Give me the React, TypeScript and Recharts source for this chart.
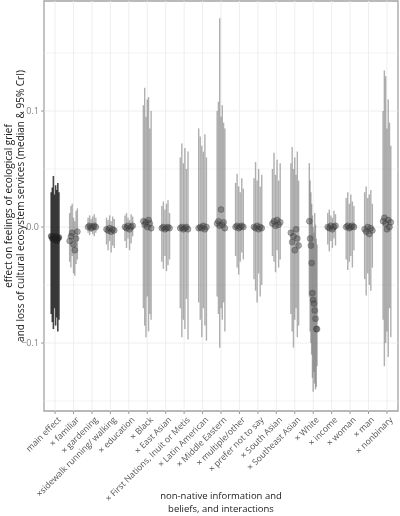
import React from 'react';
import {
  ScatterChart, Scatter, ErrorBar, XAxis, YAxis, ReferenceLine, ReferenceArea,
} from 'recharts';

const FONT = '"Open Sans", "Noto Sans", sans-serif';

const categories = [
  'main effect', '× familiar', '× gardening', '×sidewalk running/ walking', '× education',
  '× Black', '× East Asian', '× First Nations, Inuit or Metis', '× Latin American',
  '× Middle Eastern', '× multiple/other', '× prefer not to say', '× South Asian',
  '× Southeast Asian', '× White', '× income', '× woman', '× man', '× nonbinary',
];

// posterior medians, one list of model runs per term
const medians = [
  [-0.008, -0.010, -0.009, -0.011, -0.008, -0.012, -0.010, -0.009],
  [-0.012, -0.008, -0.005, -0.015, -0.020, -0.010, -0.004],
  [0.000, 0.001, -0.001, 0.000, 0.001, 0.000],
  [-0.002, -0.003, -0.001, -0.004, -0.002, -0.003],
  [0.000, -0.001, 0.001, -0.002, 0.000, 0.001],
  [0.005, 0.002, 0.004, 0.000, 0.006, 0.003, -0.001],
  [-0.001, 0.000, -0.002, -0.001, 0.000, -0.001],
  [-0.001, 0.000, -0.002, -0.001, 0.000, -0.002],
  [-0.001, 0.000, -0.001, 0.001, -0.002, 0.000],
  [0.003, 0.005, 0.001, 0.015, 0.002, 0.004, -0.001],
  [0.000, 0.001, -0.001, 0.000, 0.001, 0.000],
  [0.000, -0.001, 0.001, -0.002, 0.000, -0.001],
  [0.003, 0.005, 0.001, 0.006, 0.002, 0.004],
  [-0.005, -0.013, -0.008, -0.020, -0.002, -0.010, -0.016],
  [0.005, -0.010, -0.016, -0.031, -0.057, -0.063, -0.066, -0.072, -0.079, -0.088, -0.088],
  [0.000, -0.001, 0.001, -0.002, 0.000, 0.001],
  [0.000, 0.001, -0.001, 0.000, 0.001, 0.000],
  [-0.002, -0.004, 0.000, -0.006, -0.001, -0.003],
  [0.005, 0.008, 0.003, -0.002, 0.006, 0.000, 0.004],
];

// lower 95% CrI bounds
const lowers = [
  [-0.075, -0.082, -0.088, -0.070, -0.085, -0.078, -0.090, -0.080],
  [-0.030, -0.035, -0.025, -0.040, -0.042, -0.032, -0.028],
  [-0.005, -0.007, -0.004, -0.006, -0.008, -0.005],
  [-0.015, -0.020, -0.012, -0.022, -0.016, -0.018],
  [-0.012, -0.018, -0.010, -0.020, -0.014, -0.008],
  [-0.070, -0.085, -0.095, -0.060, -0.090, -0.075, -0.080],
  [-0.030, -0.036, -0.025, -0.038, -0.033, -0.028],
  [-0.070, -0.095, -0.080, -0.088, -0.062, -0.097],
  [-0.065, -0.080, -0.095, -0.070, -0.085, -0.098],
  [-0.060, -0.075, -0.104, -0.070, -0.080, -0.065, -0.090],
  [-0.025, -0.035, -0.041, -0.030, -0.022, -0.028],
  [-0.045, -0.055, -0.065, -0.040, -0.060, -0.050],
  [-0.025, -0.030, -0.039, -0.020, -0.035, -0.028],
  [-0.075, -0.090, -0.104, -0.080, -0.070, -0.095, -0.085],
  [-0.060, -0.090, -0.100, -0.110, -0.130, -0.142, -0.125, -0.135, -0.140, -0.138, -0.120],
  [-0.015, -0.021, -0.012, -0.018, -0.010, -0.016],
  [-0.028, -0.037, -0.030, -0.025, -0.035, -0.020],
  [-0.045, -0.059, -0.040, -0.050, -0.055, -0.035],
  [-0.080, -0.120, -0.100, -0.090, -0.112, -0.070, -0.095],
];

// upper 95% CrI bounds
const uppers = [
  [0.030, 0.034, 0.044, 0.028, 0.036, 0.032, 0.038, 0.030],
  [0.012, 0.018, 0.020, 0.008, 0.005, 0.014, 0.016],
  [0.008, 0.010, 0.007, 0.009, 0.011, 0.008],
  [0.008, 0.006, 0.010, 0.005, 0.009, 0.007],
  [0.010, 0.012, 0.008, 0.006, 0.011, 0.009],
  [0.105, 0.120, 0.095, 0.110, 0.112, 0.085, 0.100],
  [0.018, 0.022, 0.015, 0.020, 0.023, 0.012],
  [0.060, 0.072, 0.055, 0.068, 0.050, 0.065],
  [0.085, 0.078, 0.070, 0.065, 0.080, 0.060],
  [0.100, 0.108, 0.180, 0.095, 0.105, 0.090, 0.085],
  [0.038, 0.046, 0.035, 0.030, 0.042, 0.033],
  [0.042, 0.056, 0.040, 0.050, 0.035, 0.045],
  [0.050, 0.064, 0.045, 0.058, 0.040, 0.055],
  [0.055, 0.069, 0.050, 0.060, 0.045, 0.065, 0.040],
  [0.055, 0.040, 0.030, 0.020, 0.010, 0.000, -0.005, 0.012, 0.002, -0.010, -0.015],
  [0.012, 0.015, 0.010, 0.008, 0.014, 0.011],
  [0.025, 0.030, 0.020, 0.028, 0.022, 0.018],
  [0.030, 0.035, 0.025, 0.028, 0.032, 0.020],
  [0.100, 0.135, 0.130, 0.085, 0.110, 0.090, 0.070],
];

const yTicks = [-0.1, 0, 0.1];
const yGrid = [-0.15, -0.1, -0.05, 0, 0.05, 0.1, 0.15];

type Row = { x: number; y: number; err: [number, number] };

// spread the runs of each term a little around its slot
const rowsFor = (from: number, to: number): Row[] => {
  const out: Row[] = [];
  for (let i = from; i < to; i++) {
    const n = medians[i].length;
    medians[i].forEach((m, j) => {
      out.push({
        x: i + 1 + (j / (n - 1) - 0.5) * 0.42,
        y: m,
        err: [m - lowers[i][j], uppers[i][j] - m],
      });
    });
  }
  return out;
};

const mainRows = rowsFor(0, 1);
const termRows = rowsFor(1, categories.length);

const W = 400;
const H = 516;
const LEFT = 44;
const RIGHT = 398;
const TOP = 1;
const BOTTOM = 411;
const Y_MIN = -(BOTTOM - 227) / 1160;
const Y_MAX = (227 - TOP) / 1160;

const XTick = (props: any) => {
  const { x, y, payload } = props;
  const label = categories[payload.value - 1];
  const px = x + 3;
  const py = y + 1;
  return (
    <text x={px} y={py} dy="0.55em" textAnchor="end" fontSize={8.6} fill="#555"
      fontFamily={FONT} transform={`rotate(-45 ${px} ${py})`}>
      {label}
    </text>
  );
};

const fmtY = (v: number) => (v === 0 ? '0.0' : v < 0 ? `\u2212${Math.abs(v).toFixed(1)}` : v.toFixed(1));

const Dot = (color: string) => (p: any) =>
  <circle cx={p.cx} cy={p.cy} r={3} fill={color} stroke="rgba(40,40,40,0.45)" strokeWidth={0.6} />;

const NoShape = () => <g />;

export default function App() {
  return (
    <div style={{ position: 'absolute', left: 0, top: 0, width: W, height: H, background: '#fff', filter: 'grayscale(1)' }}>
      <ScatterChart width={W} height={H} margin={{ top: TOP, right: W - RIGHT, bottom: 0, left: 0 }}>
        {yGrid.map((v) => (
          <ReferenceLine key={`h${v}`} y={v} stroke="#ececec" strokeWidth={yTicks.includes(v) ? 0.9 : 0.6} />
        ))}
        {categories.map((_, i) => (
          <ReferenceLine key={`v${i}`} x={i + 1} stroke="#ececec" strokeWidth={0.9} />
        ))}
        <XAxis type="number" dataKey="x" domain={[0.4, categories.length + 0.6]} ticks={categories.map((_, i) => i + 1)}
          allowDataOverflow height={H - BOTTOM} interval={0} tick={<XTick />} tickSize={3}
          tickLine={{ stroke: '#9a9a9a' }} axisLine={false} />
        <YAxis type="number" dataKey="y" domain={[Y_MIN, Y_MAX]} ticks={yTicks}
          allowDataOverflow width={LEFT} tickFormatter={fmtY} tickSize={3} tickMargin={2}
          tick={{ fontSize: 9, fill: '#808080', fontFamily: FONT }} tickLine={{ stroke: '#9a9a9a' }} axisLine={false} />
        <ReferenceArea x1={0.4} x2={categories.length + 0.6} y1={Y_MIN} y2={Y_MAX}
          fill="none" stroke="#a3a3a3" strokeWidth={1.3} ifOverflow="visible" />

        <Scatter data={termRows} shape={NoShape} isAnimationActive={false}>
          <ErrorBar dataKey="err" direction="y" width={0} stroke="rgba(110,110,110,0.55)" strokeWidth={1.4}
            isAnimationActive={false} />
        </Scatter>
        <Scatter data={mainRows} shape={NoShape} isAnimationActive={false}>
          <ErrorBar dataKey="err" direction="y" width={0} stroke="rgba(25,25,25,0.8)" strokeWidth={1.6}
            isAnimationActive={false} />
        </Scatter>
        <Scatter data={termRows} shape={Dot('rgba(70,70,70,0.45)')} isAnimationActive={false} />
        <Scatter data={mainRows} shape={Dot('rgba(30,30,30,0.6)')} isAnimationActive={false} />
      </ScatterChart>

      <svg width={W} height={H} style={{ position: 'absolute', left: 0, top: 0, pointerEvents: 'none' }}
        fontFamily={FONT} fill="#1a1a1a">
        <g transform={`translate(0 ${(TOP + BOTTOM) / 2}) rotate(-90)`} fontSize={10}>
          <text x={0} y={12} textAnchor="middle">effect on feelings of ecological grief</text>
          <text x={0} y={24} textAnchor="middle">and loss of cultural ecosystem services (median &amp; 95% CrI)</text>
        </g>
        <g fontSize={9.5}>
          <text x={(LEFT + RIGHT) / 2} y={499} textAnchor="middle">non-native information and</text>
          <text x={(LEFT + RIGHT) / 2} y={512} textAnchor="middle">beliefs, and interactions</text>
        </g>
      </svg>
    </div>
  );
}
